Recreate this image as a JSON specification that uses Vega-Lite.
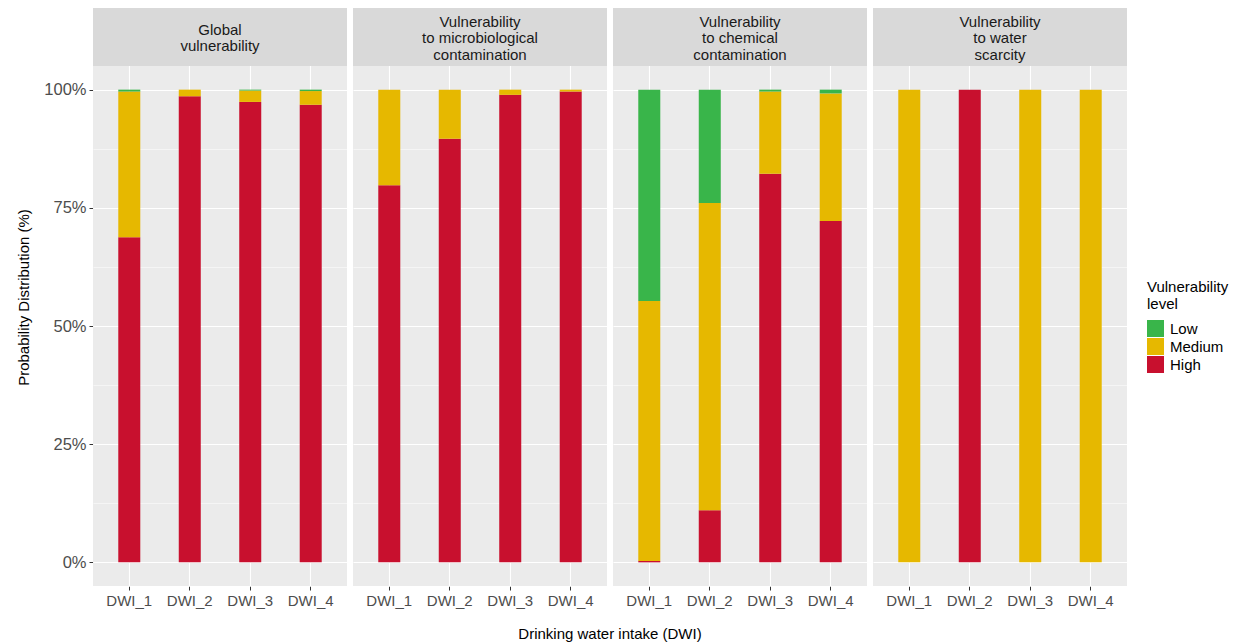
{
  "$schema": "https://vega.github.io/schema/vega-lite/v6.json",
  "padding": {"left": 16, "top": 8, "right": 5, "bottom": 5},
  "background": "white",
  "data": {
    "values": [
      {"panel": "Global\nvulnerability", "dwi": "DWI_1", "level": "High", "pct": 68.8},
      {"panel": "Global\nvulnerability", "dwi": "DWI_1", "level": "Medium", "pct": 30.8},
      {"panel": "Global\nvulnerability", "dwi": "DWI_1", "level": "Low", "pct": 0.4},
      {"panel": "Global\nvulnerability", "dwi": "DWI_2", "level": "High", "pct": 98.6},
      {"panel": "Global\nvulnerability", "dwi": "DWI_2", "level": "Medium", "pct": 1.4},
      {"panel": "Global\nvulnerability", "dwi": "DWI_2", "level": "Low", "pct": 0},
      {"panel": "Global\nvulnerability", "dwi": "DWI_3", "level": "High", "pct": 97.4},
      {"panel": "Global\nvulnerability", "dwi": "DWI_3", "level": "Medium", "pct": 2.4},
      {"panel": "Global\nvulnerability", "dwi": "DWI_3", "level": "Low", "pct": 0.2},
      {"panel": "Global\nvulnerability", "dwi": "DWI_4", "level": "High", "pct": 96.8},
      {"panel": "Global\nvulnerability", "dwi": "DWI_4", "level": "Medium", "pct": 2.9},
      {"panel": "Global\nvulnerability", "dwi": "DWI_4", "level": "Low", "pct": 0.3},
      {"panel": "Vulnerability\nto microbiological\ncontamination", "dwi": "DWI_1", "level": "High", "pct": 79.8},
      {"panel": "Vulnerability\nto microbiological\ncontamination", "dwi": "DWI_1", "level": "Medium", "pct": 20.2},
      {"panel": "Vulnerability\nto microbiological\ncontamination", "dwi": "DWI_2", "level": "High", "pct": 89.6},
      {"panel": "Vulnerability\nto microbiological\ncontamination", "dwi": "DWI_2", "level": "Medium", "pct": 10.4},
      {"panel": "Vulnerability\nto microbiological\ncontamination", "dwi": "DWI_3", "level": "High", "pct": 98.9},
      {"panel": "Vulnerability\nto microbiological\ncontamination", "dwi": "DWI_3", "level": "Medium", "pct": 1.1},
      {"panel": "Vulnerability\nto microbiological\ncontamination", "dwi": "DWI_4", "level": "High", "pct": 99.6},
      {"panel": "Vulnerability\nto microbiological\ncontamination", "dwi": "DWI_4", "level": "Medium", "pct": 0.4},
      {"panel": "Vulnerability\nto chemical\ncontamination", "dwi": "DWI_1", "level": "High", "pct": 0.3},
      {"panel": "Vulnerability\nto chemical\ncontamination", "dwi": "DWI_1", "level": "Medium", "pct": 55.0},
      {"panel": "Vulnerability\nto chemical\ncontamination", "dwi": "DWI_1", "level": "Low", "pct": 44.7},
      {"panel": "Vulnerability\nto chemical\ncontamination", "dwi": "DWI_2", "level": "High", "pct": 11.0},
      {"panel": "Vulnerability\nto chemical\ncontamination", "dwi": "DWI_2", "level": "Medium", "pct": 65.0},
      {"panel": "Vulnerability\nto chemical\ncontamination", "dwi": "DWI_2", "level": "Low", "pct": 24.0},
      {"panel": "Vulnerability\nto chemical\ncontamination", "dwi": "DWI_3", "level": "High", "pct": 82.2},
      {"panel": "Vulnerability\nto chemical\ncontamination", "dwi": "DWI_3", "level": "Medium", "pct": 17.4},
      {"panel": "Vulnerability\nto chemical\ncontamination", "dwi": "DWI_3", "level": "Low", "pct": 0.4},
      {"panel": "Vulnerability\nto chemical\ncontamination", "dwi": "DWI_4", "level": "High", "pct": 72.2},
      {"panel": "Vulnerability\nto chemical\ncontamination", "dwi": "DWI_4", "level": "Medium", "pct": 27.0},
      {"panel": "Vulnerability\nto chemical\ncontamination", "dwi": "DWI_4", "level": "Low", "pct": 0.8},
      {"panel": "Vulnerability\nto water\nscarcity", "dwi": "DWI_1", "level": "Medium", "pct": 100},
      {"panel": "Vulnerability\nto water\nscarcity", "dwi": "DWI_2", "level": "High", "pct": 100},
      {"panel": "Vulnerability\nto water\nscarcity", "dwi": "DWI_3", "level": "Medium", "pct": 100},
      {"panel": "Vulnerability\nto water\nscarcity", "dwi": "DWI_4", "level": "Medium", "pct": 100}
    ]
  },
  "facet": {
    "column": {
      "field": "panel",
      "type": "nominal",
      "sort": [
        "Global\nvulnerability",
        "Vulnerability\nto microbiological\ncontamination",
        "Vulnerability\nto chemical\ncontamination",
        "Vulnerability\nto water\nscarcity"
      ],
      "header": {
        "title": "Drinking water intake (DWI)",
        "titleOrient": "bottom",
        "labels": false,
        "titleFontSize": 15,
        "titleFontWeight": "normal",
        "titleColor": "black",
        "titlePadding": 9
      }
    }
  },
  "spacing": 6,
  "spec": {
    "width": 254,
    "height": 578,
    "layer": [
      {
        "transform": [
          {"calculate": "indexof(['High', 'Medium', 'Low'], datum.level)", "as": "stackRank"}
        ],
        "mark": {"type": "bar"},
        "encoding": {
          "x": {
            "field": "dwi",
            "type": "nominal",
            "title": null,
            "scale": {"paddingInner": 0.636, "paddingOuter": 0.418},
            "axis": {
              "labelAngle": 0,
              "bandPosition": 0.5,
              "grid": true,
              "gridColor": "white",
              "gridWidth": 1.1,
              "domain": false,
              "tickColor": "#333333",
              "tickSize": 4,
              "labelFontSize": 15,
              "labelColor": "#4D4D4D",
              "labelPadding": 3
            }
          },
          "y": {
            "field": "pct",
            "type": "quantitative",
            "stack": "zero",
            "title": "Probability Distribution (%)",
            "scale": {"domain": [-5, 117.27], "nice": false, "zero": false},
            "axis": {
              "values": [0, 12.5, 25, 37.5, 50, 62.5, 75, 87.5, 100],
              "labelExpr": "datum.value % 25 === 0 ? datum.value + '%' : ''",
              "domain": false,
              "gridColor": "white",
              "gridWidth": {"condition": {"test": "datum.value % 25 === 0", "value": 1.1}, "value": 0.5},
              "tickColor": "#333333",
              "tickOpacity": {"condition": {"test": "datum.value % 25 === 0", "value": 1}, "value": 0},
              "tickSize": 4,
              "labelFontSize": 16.5,
              "labelColor": "#4D4D4D",
              "labelPadding": 3,
              "titleFontSize": 15,
              "titleFontWeight": "normal",
              "titleColor": "black",
              "titlePadding": 12
            }
          },
          "color": {
            "field": "level",
            "type": "nominal",
            "title": ["Vulnerability", "level"],
            "scale": {
              "domain": ["Low", "Medium", "High"],
              "range": ["#39B54A", "#E6B800", "#C8102E"]
            },
            "legend": {
              "orient": "none",
              "legendX": 1054,
              "legendY": 272,
              "symbolType": "square",
              "symbolSize": 289,
              "symbolStrokeWidth": 0,
              "symbolOpacity": 1,
              "labelFontSize": 15,
              "labelColor": "black",
              "titleFontSize": 15,
              "titleFontWeight": "normal",
              "titleColor": "black",
              "titleLineHeight": 17,
              "titlePadding": 8,
              "rowPadding": 1,
              "labelOffset": 6
            }
          },
          "order": {"field": "stackRank", "type": "quantitative"}
        }
      },
      {
        "transform": [{"aggregate": [{"op": "count", "as": "n"}], "groupby": ["panel"]}],
        "mark": {"type": "rect", "color": "#D9D9D9"},
        "encoding": {
          "y": {"datum": 105, "type": "quantitative"},
          "y2": {"datum": 117.27}
        }
      },
      {
        "transform": [
          {"aggregate": [{"op": "count", "as": "n"}], "groupby": ["panel"]},
          {"filter": "length(split(datum.panel, '\\n')) === 3"}
        ],
        "mark": {
          "type": "text",
          "fontSize": 15,
          "color": "#1A1A1A",
          "lineBreak": "\n",
          "lineHeight": 16.5,
          "align": "center",
          "baseline": "middle"
        },
        "encoding": {
          "y": {"datum": 114.31, "type": "quantitative"},
          "text": {"field": "panel"}
        }
      },
      {
        "transform": [
          {"aggregate": [{"op": "count", "as": "n"}], "groupby": ["panel"]},
          {"filter": "length(split(datum.panel, '\\n')) === 2"}
        ],
        "mark": {
          "type": "text",
          "fontSize": 15,
          "color": "#1A1A1A",
          "lineBreak": "\n",
          "lineHeight": 16.5,
          "align": "center",
          "baseline": "middle"
        },
        "encoding": {
          "y": {"datum": 112.62, "type": "quantitative"},
          "text": {"field": "panel"}
        }
      }
    ]
  },
  "config": {
    "font": "Liberation Sans",
    "view": {"fill": "#EBEBEB", "stroke": null}
  }
}
